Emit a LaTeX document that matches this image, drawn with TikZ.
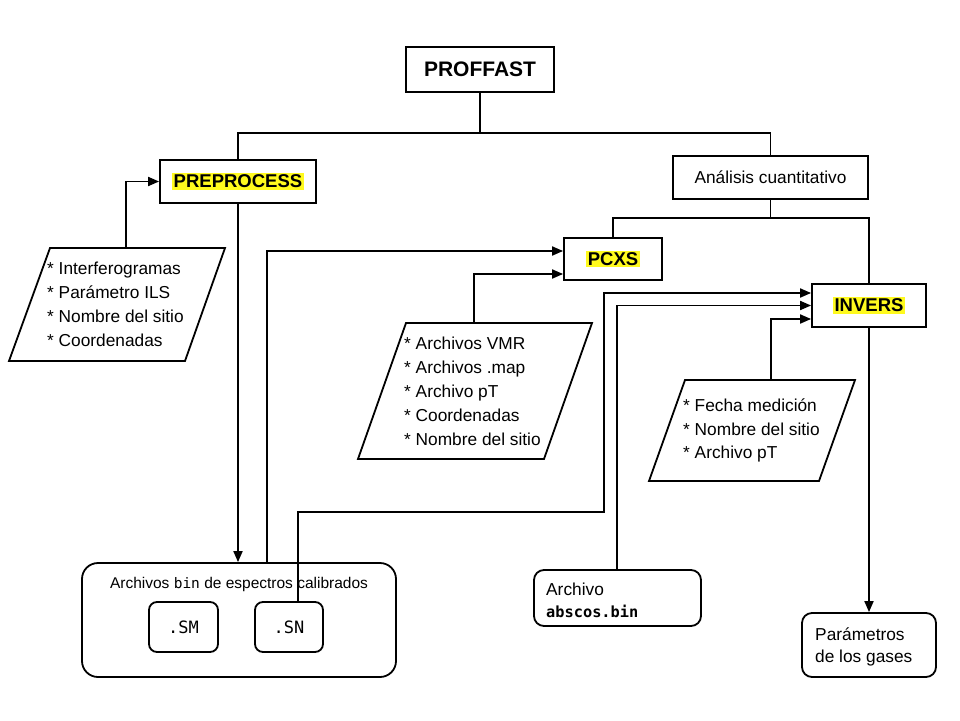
\documentclass[tikz,border=0pt]{standalone}
\usepackage{fontspec}
\setmainfont{Liberation Sans}
\newfontfamily\monof{DejaVu Sans Mono}
\usetikzlibrary{arrows.meta}
\definecolor{hly}{RGB}{255,250,30}
\newcommand{\hlt}[1]{{\setlength{\fboxsep}{1.5pt}\colorbox{hly}{#1}}}
\begin{document}
\begin{tikzpicture}[x=1pt,y=-1pt,
  box/.style={draw, line width=1.8pt, inner sep=0pt, font=\fontsize{17.3}{20}\selectfont},
  rbox/.style={box, rounded corners=10pt},
  conn/.style={line width=1.8pt},
  arr/.style={conn, -{Triangle[length=11pt,width=9pt]}},
  para/.style={draw, line width=1.8pt, line join=miter},
  txt/.style={align=left, font=\fontsize{17.3}{24}\selectfont, inner sep=0pt}]
\useasboundingbox (0,0) rectangle (960,720);
\fill[white] (0,0) rectangle (960,720);

% main boxes
\node[box, minimum width=148, minimum height=45, font=\fontsize{21}{24}\selectfont\bfseries] (proffast) at (480,69.5) {PROFFAST};
\node[box, minimum width=156, minimum height=43, font=\fontsize{18.5}{22}\selectfont\bfseries] (pre) at (238,181.5) {\hlt{PREPROCESS}};
\node[box, minimum width=195, minimum height=43] (ana) at (770.5,177.5) {Análisis cuantitativo};
\node[box, minimum width=98, minimum height=42, font=\fontsize{18.5}{22}\selectfont\bfseries] (pcxs) at (613,259) {\hlt{PCXS}};
\node[box, minimum width=114, minimum height=43, font=\fontsize{18.5}{22}\selectfont\bfseries] (invers) at (869,305.5) {\hlt{INVERS}};

% bottom boxes
\node[rbox, rounded corners=16pt, minimum width=314, minimum height=114] (binbox) at (239,620) {};
\node[inner sep=0pt, font=\fontsize{15.5}{18}\selectfont] (bintitle) at (239,584) {Archivos {\monof\fontsize{14.5}{18}\selectfont bin} de espectros calibrados};
\node[rbox, rounded corners=8pt, minimum width=69, minimum height=50, font=\monof\fontsize{17}{20}\selectfont] (sm) at (183.5,627) {.SM};
\node[rbox, rounded corners=8pt, minimum width=68, minimum height=50, font=\monof\fontsize{17}{20}\selectfont] (sn) at (289,627) {.SN};
\node[rbox, minimum width=167, minimum height=56] (abscos) at (617.5,598) {};
\node[txt, anchor=west, font=\fontsize{17.3}{22}\selectfont] (abscostxt) at (546,600) {Archivo\\{\monof\bfseries\fontsize{15.3}{22}\selectfont abscos.bin}};
\node[rbox, minimum width=134, minimum height=64] (param) at (869,645) {};
\node[txt, anchor=west, font=\fontsize{17.3}{22}\selectfont] (paramtxt) at (815,647) {Parámetros\\de los gases};

% parallelograms
\coordinate (p1top) at (126,248);
\coordinate (p2top) at (474,323);
\coordinate (p3top) at (771,380);
\draw[para] (50,248) -- (225,248) -- (185,361) -- (9,361) -- cycle;
\draw[para] (406,323) -- (592,323) -- (544,459) -- (358,459) -- cycle;
\draw[para] (685,380) -- (855,380) -- (819,481) -- (649,481) -- cycle;
\node[txt, anchor=west] (p1txt) at (47,304.5) {* Interferogramas\\* Parámetro ILS\\* Nombre del sitio\\* Coordenadas};
\node[txt, anchor=west] (p2txt) at (404,391) {* Archivos VMR\\* Archivos .map\\* Archivo pT\\* Coordenadas\\* Nombre del sitio};
\node[txt, anchor=west, font=\fontsize{17.3}{23.5}\selectfont] (p3txt) at (683,430.5) {* Fecha medición\\* Nombre del sitio\\* Archivo pT};

% tree connectors
\coordinate (j1) at (480,133);
\coordinate (j2) at (770.5,218);
\draw[conn] (proffast.south) -- (j1) -| (pre.north);
\draw[conn] (j1) -| (ana.north);
\draw[conn] (ana.south) -- (j2) -| (pcxs.north);
\draw[conn] (j2) -| (invers.north);

% arrows
\draw[arr] (p1top) |- (pre.west);
\draw[arr] (pre.south) -- (pre.south |- binbox.north);
\draw[arr] ([xshift=28]binbox.north) |- ([yshift=8]pcxs.west);
\draw[arr] (p2top) |- ([yshift=-15]pcxs.west);
\coordinate (k1) at (604,512);
\draw[arr] ([xshift=9]sn.north) |- (k1) |- ([yshift=12.5]invers.west);
\draw[arr] ([xshift=-0.5]abscos.north) |- (invers.west);
\draw[arr] (p3top) |- ([yshift=-13.5]invers.west);
\draw[arr] (invers.south) -- (param.north);
\end{tikzpicture}
\end{document}
